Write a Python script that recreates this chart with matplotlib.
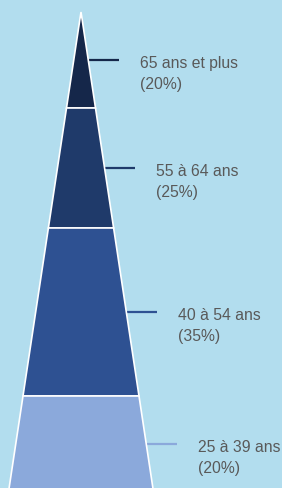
import matplotlib

matplotlib.use("Agg")
import matplotlib.pyplot as plt

# tranches d'âge, du sommet vers la base de la pyramide
labels = ["65 ans et plus", "55 à 64 ans", "40 à 54 ans", "25 à 39 ans"]
shares = [20, 25, 35, 20]
colors = ["#15274A", "#1F3A6A", "#2E5192", "#8BA9DB"]

BG = "#B2DDEE"
TEXT = "#595959"
CX = 81.0          # axe central de la pyramide (px)
HALF_BASE = 72.5   # demi-largeur à 100 %

fig = plt.figure(figsize=(2.82, 4.88), dpi=100, facecolor=BG)
ax = fig.add_axes([0, 0, 1, 1])
ax.set_facecolor(BG)
ax.set_xlim(0, 282)
ax.set_ylim(99.17, -2.5)
ax.axis("off")

top = 0.0
for label, share, color in zip(labels, shares, colors):
    bottom = top + share
    w0 = HALF_BASE * top / 100
    w1 = HALF_BASE * bottom / 100
    ax.fill([CX - w0, CX + w0, CX + w1, CX - w1], [top, top, bottom, bottom],
            facecolor=color, edgecolor="white", linewidth=1.2, joinstyle="miter", zorder=2)

    mid = (top + bottom) / 2
    x0 = CX + HALF_BASE * mid / 100 + 0.5
    x1 = x0 + 30
    ax.plot([x0, x1], [mid, mid], color=color, linewidth=1.6, solid_capstyle="butt", zorder=1)
    ax.annotate(label, xy=(x1, mid), xytext=(21, -8), textcoords="offset pixels",
                fontsize=11.3, family="Liberation Sans", color=TEXT, va="baseline")
    ax.annotate(f"({share}%)", xy=(x1, mid), xytext=(21, -29), textcoords="offset pixels",
                fontsize=11.3, family="Liberation Sans", color=TEXT, va="baseline")
    top = bottom

fig.savefig("out.png", dpi=100, facecolor=BG)
plt.close(fig)
